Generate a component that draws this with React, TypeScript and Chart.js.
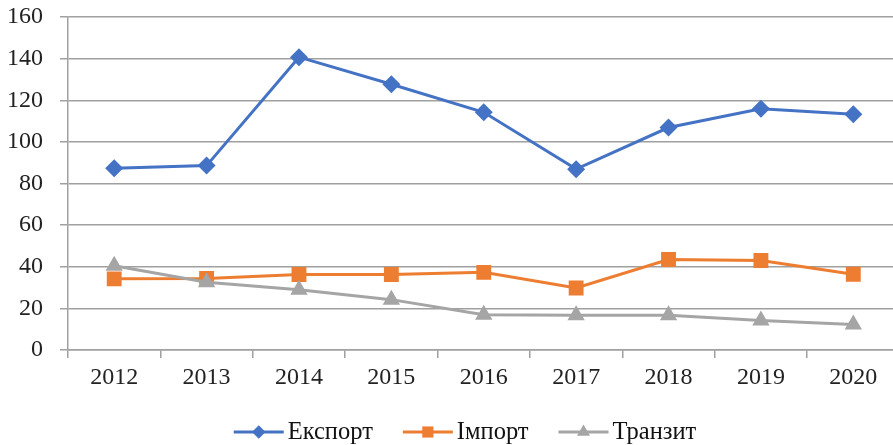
import React, { useEffect, useRef } from "react";
import { Chart, registerables } from "chart.js";
import { drawPoint } from "chart.js/helpers";

Chart.register(...registerables);

const years = ["2012", "2013", "2014", "2015", "2016", "2017", "2018", "2019", "2020"];
const exportValues = [87.3, 88.6, 140.7, 127.7, 114.2, 86.9, 106.9, 115.9, 113.3];
const importValues = [34.2, 34.4, 36.3, 36.3, 37.3, 29.8, 43.5, 43.0, 36.4];
const transitValues = [40.5, 32.6, 29.0, 24.2, 16.9, 16.7, 16.7, 14.2, 12.3];
const seriesNames = ["Експорт", "Імпорт", "Транзит"];
const yMin = 0;
const yMax = 160;
const yStep = 20;

const colors = ["#4472C4", "#ED7D31", "#A5A5A5"];
const markers = ["rectRot", "rect", "triangle"];
const markerRadius = [9, 10.5, 10];
const FONT = "'Liberation Serif', 'Times New Roman', serif";
const GRID = "#a0a0a0";

const legendPlugin = {
  id: "excelLegend",
  afterDraw(chart: any) {
    const ctx = chart.ctx;
    ctx.save();
    ctx.font = `24.5px ${FONT}`;
    const lineLen = 50;
    const gapText = 4;
    const gapItem = 30;
    const widths = seriesNames.map((n) => ctx.measureText(n).width);
    const total =
      widths.reduce((s, w) => s + lineLen + gapText + w, 0) + gapItem * (seriesNames.length - 1);
    let x = 465 - total / 2;
    const y = 432;
    seriesNames.forEach((name, i) => {
      ctx.strokeStyle = colors[i];
      ctx.lineWidth = 3;
      ctx.beginPath();
      ctx.moveTo(x, y);
      ctx.lineTo(x + lineLen, y);
      ctx.stroke();
      ctx.fillStyle = colors[i];
      drawPoint(
        ctx,
        { pointStyle: markers[i], radius: markerRadius[i] * 0.75, rotation: 0, borderWidth: 0 } as any,
        x + lineLen / 2,
        y
      );
      ctx.fillStyle = "#111";
      ctx.textAlign = "left";
      ctx.textBaseline = "middle";
      ctx.fillText(name, x + lineLen + gapText, y + 1);
      x += lineLen + gapText + widths[i] + gapItem;
    });
    ctx.restore();
  },
};

export default function App() {
  const ref = useRef<HTMLCanvasElement>(null);
  useEffect(() => {
    if (!ref.current) return;
    const series = [exportValues, importValues, transitValues];
    const chart = new Chart(ref.current, {
      type: "line",
      data: {
        labels: years,
        datasets: series.map((values, i) => ({
          label: seriesNames[i],
          data: values,
          borderColor: colors[i],
          backgroundColor: colors[i],
          borderWidth: 3,
          pointStyle: markers[i] as any,
          pointRadius: markerRadius[i],
          pointBorderWidth: 0,
          pointBackgroundColor: colors[i],
          tension: 0,
          order: 2 - i,
        })),
      },
      options: {
        responsive: false,
        animation: false,
        devicePixelRatio: 1,
        layout: { padding: { top: 17, right: 9, bottom: 45, left: 0 } },
        plugins: {
          legend: { display: false },
          tooltip: { enabled: false },
        },
        scales: {
          x: {
            offset: true,
            grid: {
              offset: true,
              drawOnChartArea: false,
              drawTicks: true,
              tickLength: 8,
              color: GRID,
              lineWidth: 1.5,
            },
            border: { display: true, color: GRID, width: 1.5 },
            ticks: { color: "#222", font: { family: FONT, size: 24 }, padding: 5, maxRotation: 0 },
            afterFit: (s: any) => {
              s.height = 50;
              s.paddingLeft = 0;
              s.paddingRight = 0;
            },
          },
          y: {
            min: yMin,
            max: yMax,
            ticks: { stepSize: yStep, color: "#222", font: { family: FONT, size: 24 }, padding: 17 },
            grid: { color: GRID, lineWidth: 1.5, drawTicks: true, tickLength: 8 },
            border: { display: true, color: GRID, width: 1.5 },
            afterFit: (s: any) => {
              s.width = 68;
              s.paddingTop = 0;
              s.paddingBottom = 0;
            },
          },
        },
      },
      plugins: [legendPlugin],
    });
    return () => chart.destroy();
  }, []);
  return (
    <div
      style={{
        position: "fixed",
        left: 0,
        top: 0,
        width: 893,
        height: 445,
        overflow: "hidden",
        background: "#fff",
      }}
    >
      <canvas ref={ref} width={910} height={445} style={{ display: "block" }} />
    </div>
  );
}
